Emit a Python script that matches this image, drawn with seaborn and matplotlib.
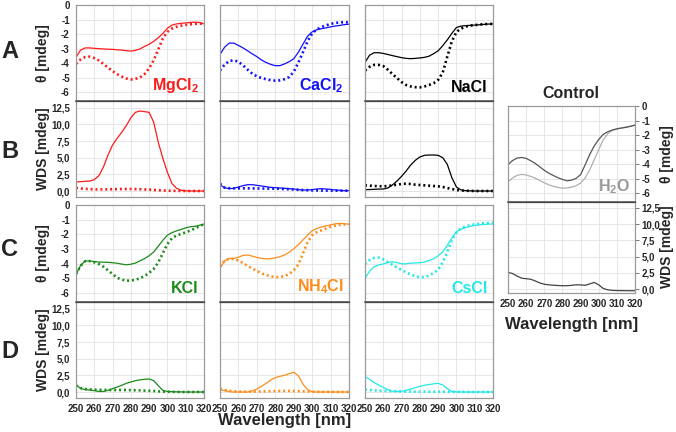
import numpy as np
import pandas as pd
import matplotlib
matplotlib.use("Agg")
import matplotlib.pyplot as plt
import seaborn as sns

# ---------------- data ----------------
wavelength = [250, 252.5, 255, 257.5, 260, 262.5, 265, 267.5, 270, 272.5, 275, 277.5, 280, 282.5,
              285, 287.5, 290, 292.5, 295, 297.5, 300, 302.5, 305, 307.5, 310, 312.5, 315, 317.5, 320]

mgcl2_theta_solid = [-3.6, -3.1, -2.95, -2.95, -2.98, -3.0, -3.02, -3.04, -3.05, -3.08, -3.1, -3.14, -3.17, -3.12,
                     -3.02, -2.85, -2.7, -2.5, -2.25, -1.95, -1.6, -1.38, -1.3, -1.26, -1.23, -1.2, -1.18, -1.2, -1.3]
mgcl2_theta_dot = [-4.05, -3.75, -3.58, -3.55, -3.65, -3.82, -4.05, -4.3, -4.55, -4.75, -4.92, -5.05, -5.12, -5.08,
                   -4.98, -4.75, -4.35, -3.8, -3.05, -2.3, -1.85, -1.62, -1.5, -1.42, -1.37, -1.33, -1.3, -1.28, -1.29]
mgcl2_wds_solid = [1.35, 1.4, 1.45, 1.5, 1.7, 2.3, 3.6, 5.4, 6.9, 7.9, 8.8, 9.8, 11.0, 11.8,
                   12.0, 11.9, 11.8, 10.3, 7.3, 4.9, 2.8, 1.1, 0.4, 0.1, 0.03, 0, 0, 0, 0]
mgcl2_wds_dot = [0.45, 0.38, 0.32, 0.28, 0.25, 0.24, 0.24, 0.25, 0.27, 0.28, 0.3, 0.3, 0.3, 0.28,
                 0.26, 0.23, 0.2, 0.16, 0.12, 0.08, 0.05, 0.03, 0.02, 0.01, 0, 0, 0, 0, 0]

cacl2_theta_solid = [-3.4, -2.9, -2.62, -2.62, -2.78, -2.95, -3.15, -3.36, -3.55, -3.78, -3.95, -4.08, -4.17, -4.17,
                     -4.05, -3.9, -3.7, -3.25, -2.7, -2.15, -1.85, -1.7, -1.63, -1.57, -1.5, -1.45, -1.4, -1.35, -1.32]
cacl2_theta_dot = [-4.5, -4.1, -3.85, -3.8, -3.9, -4.15, -4.45, -4.72, -4.9, -5.02, -5.1, -5.17, -5.2, -5.18,
                   -5.1, -4.95, -4.6, -3.95, -3.25, -2.5, -1.95, -1.68, -1.52, -1.4, -1.3, -1.23, -1.2, -1.18, -1.2]
cacl2_wds_solid = [0.9, 0.5, 0.35, 0.4, 0.6, 0.8, 0.95, 0.95, 0.85, 0.75, 0.65, 0.55, 0.5, 0.45,
                   0.4, 0.35, 0.3, 0.2, 0.15, 0.15, 0.2, 0.3, 0.35, 0.3, 0.25, 0.15, 0.1, 0.05, 0.05]
cacl2_wds_dot = [1.1, 0.5, 0.42, 0.4, 0.4, 0.4, 0.4, 0.39, 0.38, 0.37, 0.36, 0.35, 0.35, 0.33,
                 0.3, 0.27, 0.22, 0.18, 0.14, 0.12, 0.1, 0.09, 0.08, 0.07, 0.06, 0.05, 0.05, 0.05, 0.05]

nacl_theta_solid = [-3.95, -3.45, -3.28, -3.28, -3.33, -3.4, -3.48, -3.55, -3.62, -3.67, -3.69, -3.67, -3.64, -3.6,
                    -3.52, -3.35, -3.15, -2.8, -2.4, -1.95, -1.55, -1.45, -1.42, -1.4, -1.38, -1.36, -1.33, -1.31, -1.3]
nacl_theta_dot = [-4.5, -4.25, -4.12, -4.12, -4.2, -4.45, -4.75, -5.02, -5.3, -5.5, -5.6, -5.65, -5.66, -5.6,
                  -5.5, -5.38, -5.15, -4.65, -3.55, -2.5, -1.85, -1.62, -1.48, -1.42, -1.38, -1.35, -1.32, -1.3, -1.3]
nacl_wds_solid = [0.2, 0.22, 0.25, 0.28, 0.3, 0.45, 0.9, 1.5, 2.2, 3.0, 3.9, 4.6, 5.1, 5.35,
                  5.4, 5.4, 5.35, 5.0, 4.0, 2.0, 0.6, 0.15, 0.05, 0.02, 0, 0, 0, 0, 0]
nacl_wds_dot = [0.85, 0.8, 0.75, 0.72, 0.7, 0.75, 0.85, 0.95, 1.05, 1.1, 1.05, 0.95, 0.9, 0.85,
                0.8, 0.75, 0.7, 0.6, 0.45, 0.3, 0.15, 0.08, 0.04, 0.02, 0, 0, 0, 0, 0]

kcl_theta_solid = [-4.75, -4.1, -3.82, -3.8, -3.85, -3.88, -3.89, -3.9, -3.93, -3.96, -4.02, -4.07, -4.03, -3.95,
                   -3.8, -3.65, -3.45, -3.2, -2.8, -2.4, -2.05, -1.88, -1.76, -1.66, -1.56, -1.48, -1.45, -1.38, -1.3]
kcl_theta_dot = [-4.7, -4.15, -3.82, -3.82, -3.9, -4.02, -4.2, -4.45, -4.7, -4.95, -5.08, -5.15, -5.14, -5.09,
                 -4.98, -4.83, -4.62, -4.35, -3.9, -3.28, -2.65, -2.25, -2.08, -1.96, -1.86, -1.74, -1.6, -1.45, -1.3]
kcl_wds_solid = [1.05, 0.55, 0.35, 0.3, 0.2, 0.08, 0.08, 0.25, 0.5, 0.75, 1.0, 1.3, 1.5, 1.7,
                 1.82, 1.9, 1.95, 1.7, 0.95, 0.25, 0.08, 0.05, 0.03, 0.02, 0, 0, 0, 0, 0]
kcl_wds_dot = [1.0, 0.6, 0.45, 0.38, 0.35, 0.33, 0.32, 0.3, 0.3, 0.3, 0.3, 0.3, 0.28, 0.26,
               0.24, 0.2, 0.18, 0.15, 0.1, 0.06, 0.04, 0.02, 0.01, 0, 0, 0, 0, 0, 0]

nh4cl_theta_solid = [-4.3, -3.8, -3.64, -3.63, -3.55, -3.43, -3.4, -3.48, -3.57, -3.63, -3.67, -3.65, -3.6, -3.52,
                     -3.4, -3.22, -2.98, -2.7, -2.38, -2.05, -1.75, -1.6, -1.5, -1.42, -1.35, -1.28, -1.25, -1.27, -1.31]
nh4cl_theta_dot = [-4.18, -3.8, -3.66, -3.68, -3.78, -3.95, -4.15, -4.32, -4.48, -4.65, -4.77, -4.85, -4.91, -4.9,
                   -4.84, -4.7, -4.45, -4.05, -3.3, -2.55, -2.05, -1.85, -1.73, -1.6, -1.48, -1.4, -1.35, -1.32, -1.31]
nh4cl_wds_solid = [0.35, 0.2, 0.05, 0, 0, 0, 0, 0.15, 0.45, 0.85, 1.3, 1.8, 2.15, 2.35,
                   2.5, 2.75, 2.95, 2.45, 1.2, 0.35, 0.05, 0, 0, 0, 0, 0, 0, 0, 0]
nh4cl_wds_dot = [0.5, 0.3, 0.2, 0.1, 0.05, 0.05, 0.05, 0.05, 0.06, 0.08, 0.1, 0.12, 0.14, 0.15,
                 0.16, 0.16, 0.15, 0.12, 0.1, 0.07, 0.05, 0.04, 0.03, 0.02, 0.02, 0.01, 0.01, 0.01, 0.01]

cscl_theta_solid = [-5.0, -4.5, -4.2, -4.08, -4.01, -3.92, -3.86, -3.92, -4.0, -4.0, -3.96, -3.94, -3.93, -3.88,
                    -3.78, -3.66, -3.45, -3.2, -2.75, -2.25, -1.82, -1.65, -1.54, -1.45, -1.39, -1.35, -1.32, -1.3, -1.3]
cscl_theta_dot = [-4.02, -3.75, -3.6, -3.58, -3.7, -3.88, -4.07, -4.25, -4.42, -4.58, -4.72, -4.85, -4.92, -4.9,
                  -4.81, -4.63, -4.4, -3.9, -3.2, -2.38, -1.88, -1.58, -1.45, -1.37, -1.32, -1.28, -1.24, -1.22, -1.2]
cscl_wds_solid = [2.3, 1.9, 1.4, 1.05, 0.7, 0.35, 0.12, 0.08, 0.1, 0.25, 0.45, 0.65, 0.85, 1.0,
                  1.12, 1.22, 1.3, 1.05, 0.5, 0.08, 0.02, 0, 0, 0, 0, 0, 0, 0, 0]
cscl_wds_dot = [0.4, 0.3, 0.25, 0.2, 0.18, 0.15, 0.12, 0.1, 0.08, 0.07, 0.06, 0.05, 0.05, 0.05,
                0.04, 0.04, 0.04, 0.03, 0.03, 0.02, 0.02, 0.01, 0.01, 0, 0, 0, 0, 0, 0]

control_theta_dark = [-4.03, -3.75, -3.58, -3.54, -3.6, -3.76, -3.95, -4.18, -4.42, -4.62, -4.78, -4.93, -5.05, -5.14,
                      -5.1, -4.98, -4.72, -4.05, -3.35, -2.75, -2.3, -1.95, -1.77, -1.65, -1.57, -1.52, -1.47, -1.4, -1.3]
control_theta_light = [-5.22, -4.95, -4.77, -4.7, -4.74, -4.84, -4.96, -5.12, -5.28, -5.42, -5.52, -5.6, -5.65, -5.63,
                       -5.58, -5.48, -5.3, -4.95, -4.4, -3.7, -3.0, -2.33, -1.9, -1.68, -1.58, -1.5, -1.44, -1.39, -1.34]
control_wds = [2.57, 2.4, 2.0, 1.68, 1.6, 1.52, 1.25, 0.95, 0.75, 0.65, 0.6, 0.55, 0.52, 0.52,
               0.58, 0.66, 0.65, 0.58, 0.8, 1.03, 0.65, 0.1, -0.12, -0.2, -0.22, -0.23, -0.24, -0.25, -0.25]

salts = ["MgCl$_2$", "CaCl$_2$", "NaCl", "KCl", "NH$_4$Cl", "CsCl"]
salt_colors = ["#ff1a1a", "#1010ff", "#000000", "#1a8a1a", "#ff8c1a", "#22e8e8"]
theta_solid = [mgcl2_theta_solid, cacl2_theta_solid, nacl_theta_solid, kcl_theta_solid, nh4cl_theta_solid, cscl_theta_solid]
theta_dot = [mgcl2_theta_dot, cacl2_theta_dot, nacl_theta_dot, kcl_theta_dot, nh4cl_theta_dot, cscl_theta_dot]
wds_solid = [mgcl2_wds_solid, cacl2_wds_solid, nacl_wds_solid, kcl_wds_solid, nh4cl_wds_solid, cscl_wds_solid]
wds_dot = [mgcl2_wds_dot, cacl2_wds_dot, nacl_wds_dot, kcl_wds_dot, nh4cl_wds_dot, cscl_wds_dot]

theta_ticks = [0, -1, -2, -3, -4, -5, -6]
theta_labels = ["0", "-1", "-2", "-3", "-4", "-5", "-6"]
wds_ticks = [0, 2.5, 5, 7.5, 10, 12.5]
wds_labels = ["0,0", "2,5", "5,0", "7,5", "10,0", "12,5"]
x_ticks = [250, 260, 270, 280, 290, 300, 310, 320]
x_labels = ["250", "260", "270", "280", "290", "300", "310", "320"]

# ---------------- style ----------------
sns.set_style("white")
plt.rcParams["font.family"] = ["Liberation Sans", "DejaVu Sans"]
plt.rcParams["font.weight"] = "bold"
plt.rcParams["mathtext.fontset"] = "custom"
plt.rcParams["mathtext.bf"] = "Liberation Sans:bold"
plt.rcParams["mathtext.rm"] = "Liberation Sans:bold"
plt.rcParams["mathtext.default"] = "bf"

W, H = 676, 432
fig = plt.figure(figsize=(W / 100, H / 100), dpi=100)


def ax_px(x0, y0, x1, y1):
    return fig.add_axes([x0 / W, 1 - y1 / H, (x1 - x0) / W, (y1 - y0) / H])


SPINE = "#9a9a9a"
DARK = "#444444"
GRID = "#e2e2e2"


def style(ax, kind, bottom_dark=False, xlabels=False, right=False, hide_y=False):
    ax.set_xlim(250, 320)
    if kind == "theta":
        ax.set_ylim(-6.6, 0)
        ax.set_yticks(theta_ticks)
        ax.set_yticklabels(theta_labels)
    else:
        ax.set_ylim(-0.9, 13.5)
        ax.set_yticks(wds_ticks)
        ax.set_yticklabels(wds_labels)
    ax.set_xticks(x_ticks)
    ax.grid(True, color=GRID, lw=0.6)
    ax.set_axisbelow(True)
    for s in ax.spines.values():
        s.set_color(SPINE)
        s.set_linewidth(0.9)
    if bottom_dark:
        ax.spines["bottom"].set_color(DARK)
        ax.spines["bottom"].set_linewidth(1.1)
        ax.spines["bottom"].set_zorder(5)
    ax.tick_params(axis="y", which="both", length=3, width=0.7, color="#777777",
                   labelsize=7.0, pad=1.5, direction="out")
    if right:
        ax.yaxis.tick_right()
        ax.tick_params(axis="y", labelright=True, labelleft=False)
    if hide_y:
        ax.tick_params(axis="y", labelleft=False, labelright=False)
    if xlabels:
        ax.set_xticklabels(x_labels)
        ax.tick_params(axis="x", length=3, width=0.7, color="#777777", labelsize=7.0, pad=1.5)
    elif bottom_dark:
        ax.set_xticklabels([])
        ax.tick_params(axis="x", length=3, width=0.8, color=DARK, direction="inout")
    else:
        ax.set_xticklabels([])
        ax.tick_params(axis="x", length=0)
    for lab in ax.get_yticklabels() + ax.get_xticklabels():
        lab.set_fontweight("bold")
    ax.set_xlabel("")
    ax.set_ylabel("")


def draw(ax, y, color, dotted):
    df = pd.DataFrame({"wl": wavelength, "v": y})
    if dotted:
        sns.lineplot(data=df, x="wl", y="v", ax=ax, color=color, lw=1.9,
                     linestyle=(0, (0.75, 1.1)), estimator=None)
    else:
        sns.lineplot(data=df, x="wl", y="v", ax=ax, color=color, lw=0.9, estimator=None)


cols = [(76, 204), (220, 349), (365, 493)]
theta_rows = [(5, 101), (205, 302)]
wds_rows = [(101, 197), (302, 398)]

for i in range(6):
    r, c = divmod(i, 3)
    x0, x1 = cols[c]
    ty0, ty1 = theta_rows[r]
    wy0, wy1 = wds_rows[r]
    axw = ax_px(x0, wy0, x1, wy1)
    axt = ax_px(x0, ty0, x1, ty1)
    draw(axt, theta_dot[i], salt_colors[i], True)
    draw(axt, theta_solid[i], salt_colors[i], False)
    draw(axw, wds_dot[i], salt_colors[i], True)
    draw(axw, wds_solid[i], salt_colors[i], False)
    style(axt, "theta", bottom_dark=True, hide_y=(c != 0))
    style(axw, "wds", xlabels=(r == 1), hide_y=(c != 0))
    axw.spines["top"].set_color(DARK)
    axt.text(0.96, 0.06, salts[i], transform=axt.transAxes, ha="right", va="bottom",
             color=salt_colors[i], fontsize=11.5, fontweight="bold")

# control panels
axcw = ax_px(508, 202, 635, 293)
axct = ax_px(508, 106, 635, 202)
draw(axct, control_theta_light, "#b0b0b0", False)
draw(axct, control_theta_dark, "#555555", False)
draw(axcw, control_wds, "#444444", False)
style(axct, "theta", bottom_dark=True, right=True)
style(axcw, "wds", xlabels=True, right=True)
axcw.set_ylim(-0.6, 13.4)
axcw.spines["top"].set_color(DARK)
axct.text(0.96, 0.06, "H$_2$O", transform=axct.transAxes, ha="right", va="bottom",
          color="#999999", fontsize=11.5, fontweight="bold")

# figure texts
for letter, yy in zip("ABCD", [52, 152, 250, 352]):
    fig.text(1 / W, 1 - yy / H, letter, fontsize=17, fontweight="bold", ha="left", va="center")

for lab, yy in zip(["θ [mdeg]", "WDS [mdeg]", "θ [mdeg]", "WDS [mdeg]"], [53, 149, 253, 350]):
    fig.text(43 / W, 1 - yy / H, lab, rotation=90, fontsize=10, fontweight="bold", ha="center", va="center")

fig.text(667 / W, 1 - 154 / H, "θ [mdeg]", rotation=90, fontsize=10, fontweight="bold", ha="center", va="center")
fig.text(667 / W, 1 - 247 / H, "WDS [mdeg]", rotation=90, fontsize=10, fontweight="bold", ha="center", va="center")

fig.text(285 / W, 1 - 421 / H, "Wavelength [nm]", fontsize=12, fontweight="bold", ha="center", va="center")
fig.text(572 / W, 1 - 324 / H, "Wavelength [nm]", fontsize=12, fontweight="bold", ha="center", va="center")
fig.text(571 / W, 1 - 94 / H, "Control", fontsize=11.5, fontweight="bold", ha="center", va="center")

fig.savefig("out.png", dpi=100)
